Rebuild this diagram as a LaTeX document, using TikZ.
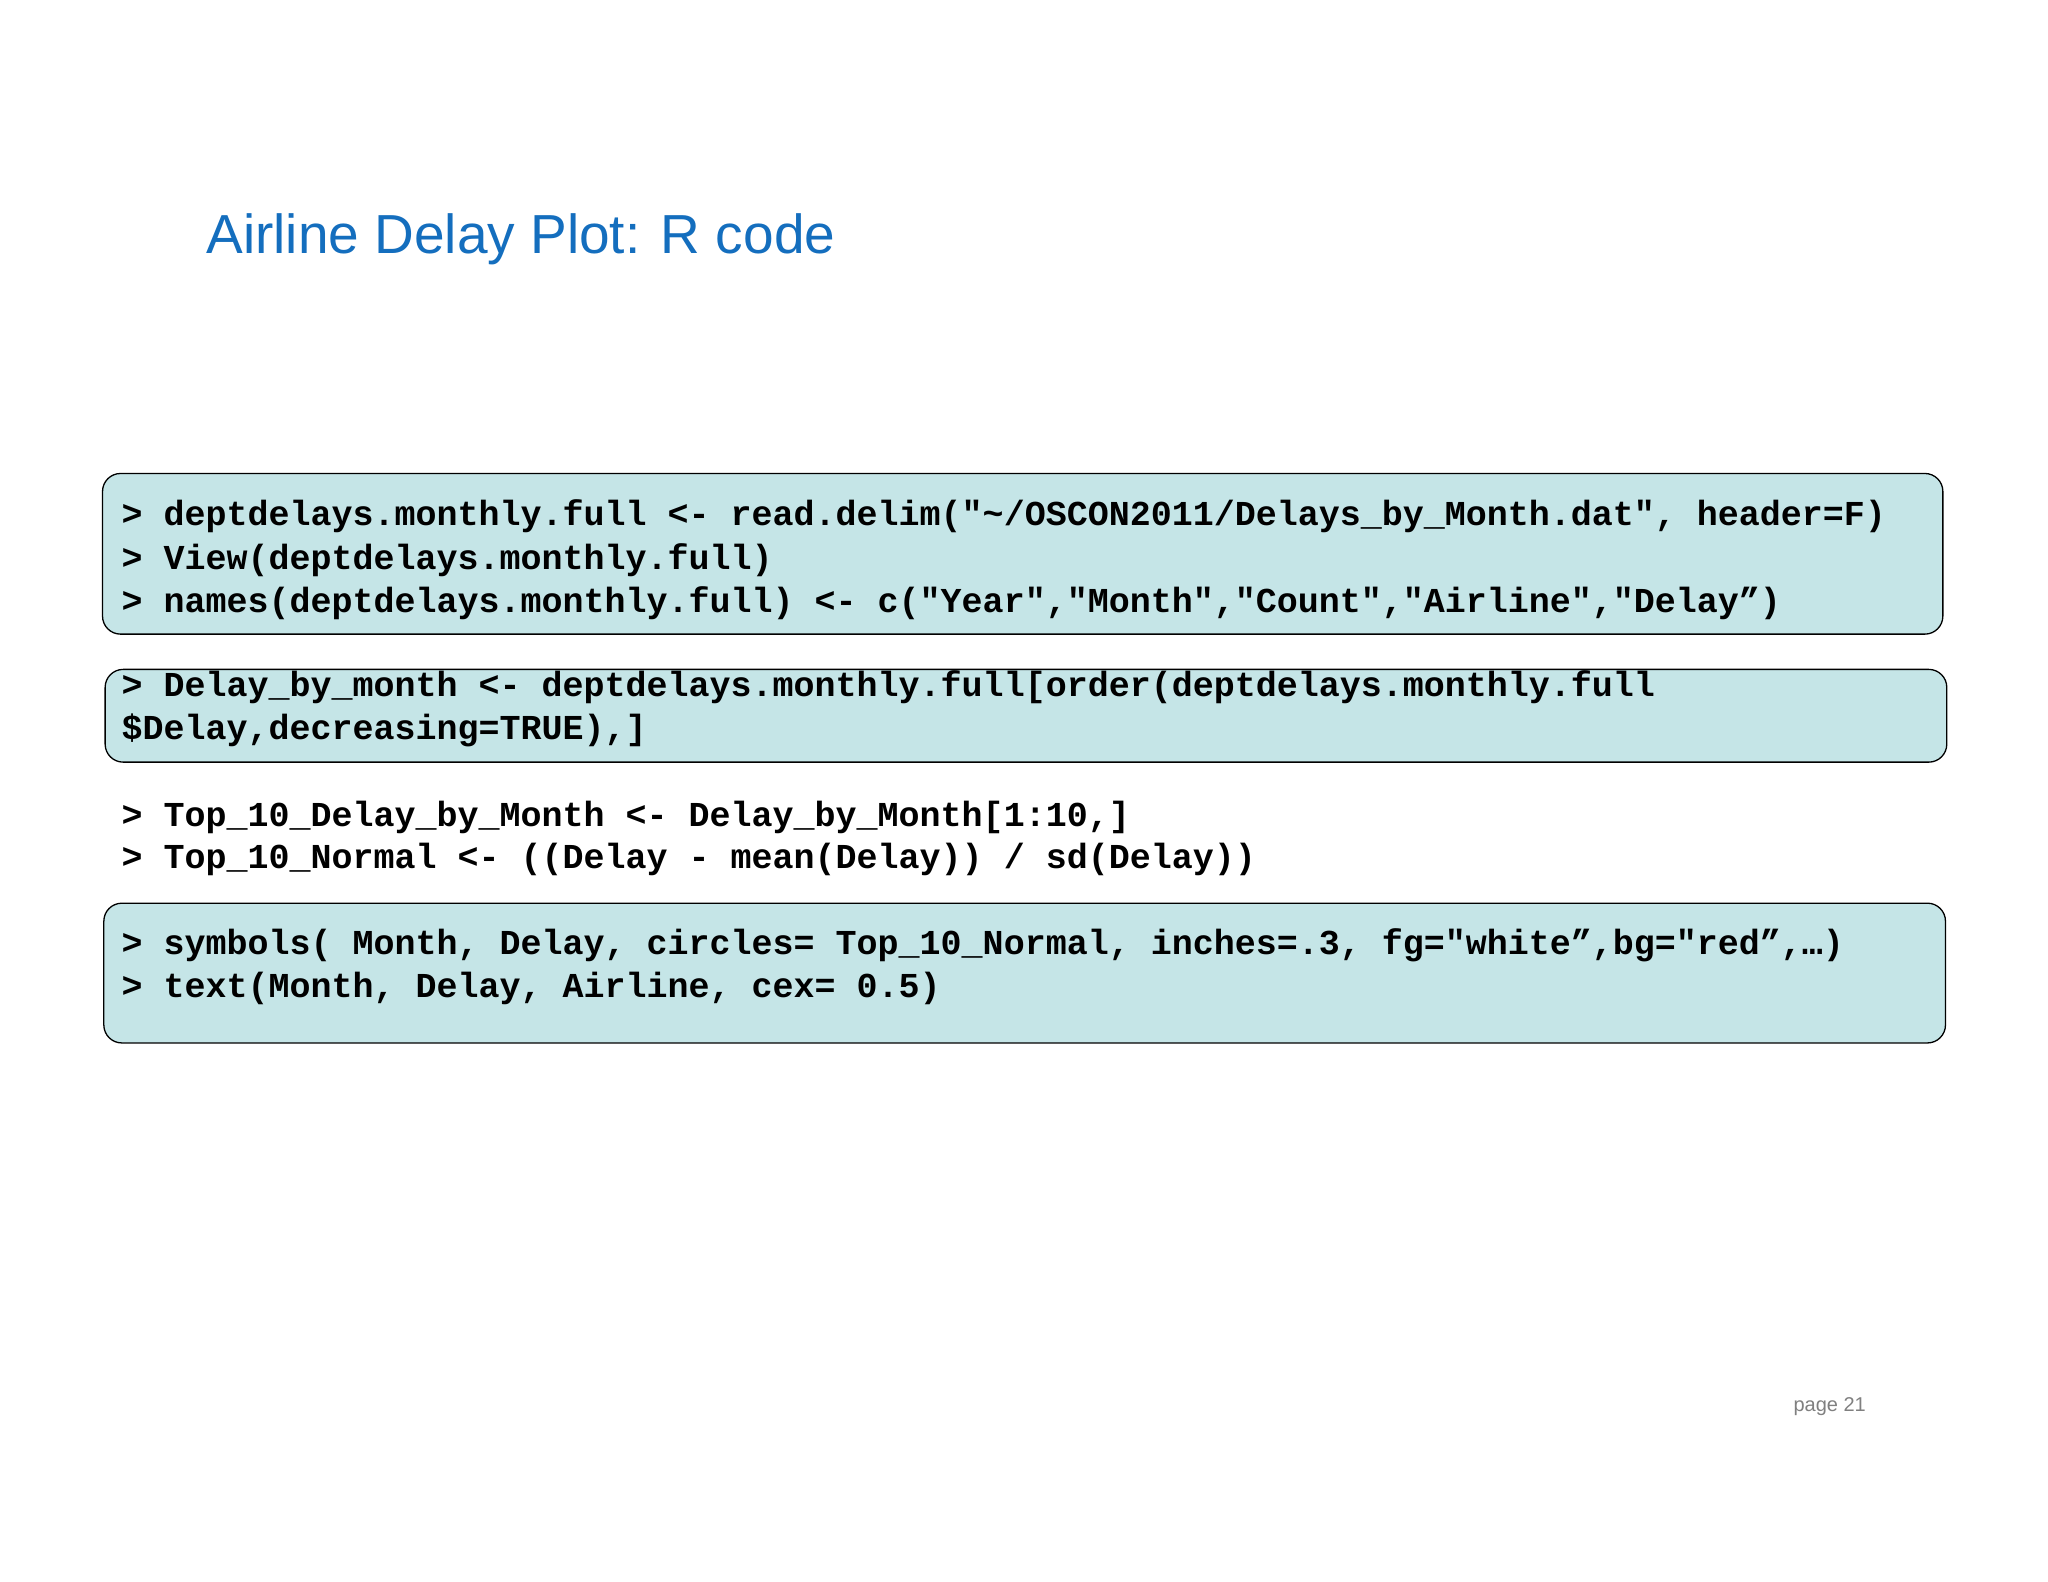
\documentclass[tikz,border=0pt]{standalone}
\usepackage{fontspec}
\setmainfont{Liberation Sans}
\newfontfamily\codefont{Liberation Mono}
\definecolor{titleblue}{RGB}{20,110,190}
\definecolor{boxfill}{RGB}{197,229,231}
\begin{document}
\begin{tikzpicture}[x=1.306pt,y=-1.306pt,
  codebox/.style={draw=black,line width=1.3pt,fill=boxfill,rounded corners=18pt,inner sep=0pt,anchor=north west},
  code/.style={anchor=base west,inner sep=0pt,font=\codefont\bfseries\fontsize{35}{40}\selectfont}]
\useasboundingbox[fill=white] (0,0) rectangle (1568,1211);
\node[anchor=base west,inner sep=0pt,text=titleblue,font=\fontsize{55}{60}\selectfont] (title) at (158,194) {Airline Delay Plot: R code};
\node[codebox,minimum width=1409*1.306pt,minimum height=123*1.306pt] (b1) at (78,362) {};
\node[codebox,minimum width=1410*1.306pt,minimum height=71*1.306pt] (b2) at (80,512) {};
\node[codebox,minimum width=1410*1.306pt,minimum height=107*1.306pt] (b3) at (79,691) {};
\node[code] (l1) at (93,402) {> deptdelays.monthly.full <- read.delim("\textasciitilde/OSCON2011/Delays\_by\_Month.dat", header=F)};
\node[code] (l2) at (93,436) {> View(deptdelays.monthly.full)};
\node[code] (l3) at (93,469) {> names(deptdelays.monthly.full) <- c("Year","Month","Count","Airline","Delay”)};
\node[code] (l4) at (93,533) {> Delay\_by\_month <- deptdelays.monthly.full[order(deptdelays.monthly.full};
\node[code] (l5) at (93,566) {\$Delay,decreasing=TRUE),]};
\node[code] (l6) at (93,633) {> Top\_10\_Delay\_by\_Month <- Delay\_by\_Month[1:10,]};
\node[code] (l7) at (93,665) {> Top\_10\_Normal <- ((Delay - mean(Delay)) / sd(Delay))};
\node[code] (l8) at (93,731) {> symbols( Month, Delay, circles= Top\_10\_Normal, inches=.3, fg="white”,bg="red”,…)};
\node[code] (l9) at (93,764) {> text(Month, Delay, Airline, cex= 0.5)};
\node[anchor=base west,inner sep=0pt,text=gray,font=\fontsize{20}{24}\selectfont] (page) at (1373,1081) {page 21};
\end{tikzpicture}
\end{document}
